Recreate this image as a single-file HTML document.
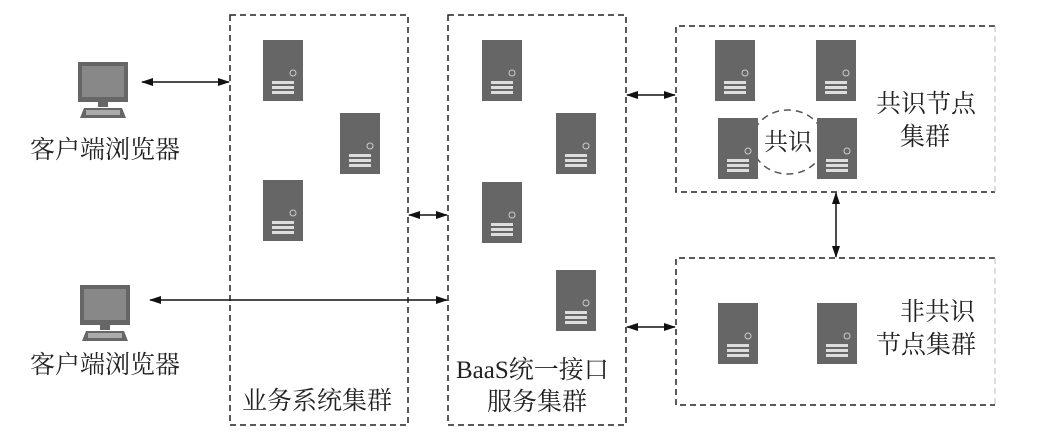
<!DOCTYPE html>
<html><head><meta charset="utf-8"><style>
html,body{margin:0;padding:0;background:#fff;}
svg text{font-family:"Liberation Serif","Noto Serif CJK SC",serif;fill:#222;}
</style></head><body>
<svg width="1055" height="441" viewBox="0 0 1055 441" xmlns="http://www.w3.org/2000/svg">
<defs>
<marker id="a" markerWidth="12" markerHeight="8" refX="11" refY="4" orient="auto-start-reverse" markerUnits="userSpaceOnUse">
<path d="M0,0 L12,4 L0,8 Z" fill="#111"/></marker>
<g id="srv">
<rect x="0" y="0" width="40" height="61" fill="#666"/>
<circle cx="30" cy="33" r="3" fill="none" stroke="#ccc" stroke-width="1"/>
<rect x="9" y="41" width="22" height="3" fill="#ddd"/>
<rect x="9" y="46" width="22" height="3" fill="#ddd"/>
<rect x="9" y="51" width="22" height="3" fill="#ddd"/>
</g>
<g id="pc">
<rect x="0" y="0" width="50" height="40" fill="#666"/>
<rect x="4" y="4" width="42" height="31" fill="#888"/>
<rect x="20" y="40" width="10" height="5" fill="#666"/>
<path d="M2,56 L6,46 L44,46 L48,56 Z" fill="#666"/>
<rect x="8" y="48" width="34" height="5" fill="#aaa"/>
</g>
</defs>
<g fill="none" stroke="#222" stroke-width="1.5" stroke-dasharray="6,4">
<rect x="230" y="15" width="178" height="410"/>
<rect x="448" y="15" width="178" height="410"/>
<path d="M995,26 L676,26 L676,192 L995,192"/>
<path d="M995,258 L676,258 L676,405 L995,405"/>
</g>
<g fill="none" stroke="#bbb" stroke-width="1" stroke-dasharray="6,4">
<line x1="995" y1="26" x2="995" y2="192"/>
<line x1="995" y1="258" x2="995" y2="405"/>
</g>
<ellipse cx="788" cy="142" rx="36" ry="32" fill="none" stroke="#555" stroke-width="1.5" stroke-dasharray="7,5"/>
<use href="#pc" x="78" y="62"/>
<use href="#pc" x="80" y="285"/>
<use href="#srv" x="263" y="40"/>
<use href="#srv" x="340" y="113"/>
<use href="#srv" x="263" y="180"/>
<use href="#srv" x="482" y="40"/>
<use href="#srv" x="556" y="113"/>
<use href="#srv" x="482" y="182"/>
<use href="#srv" x="556" y="270"/>
<use href="#srv" x="715" y="40"/>
<use href="#srv" x="816" y="40"/>
<use href="#srv" x="718" y="118"/>
<use href="#srv" x="817" y="118"/>
<use href="#srv" x="718" y="303"/>
<use href="#srv" x="817" y="303"/>
<g stroke="#111" stroke-width="1.5" marker-start="url(#a)" marker-end="url(#a)">
<line x1="142" y1="82" x2="229" y2="82"/>
<line x1="150" y1="300" x2="447" y2="300"/>
<line x1="409" y1="215" x2="447" y2="215"/>
<line x1="627" y1="95" x2="675" y2="95"/>
<line x1="627" y1="327" x2="675" y2="327"/>
<line x1="836" y1="193" x2="836" y2="257"/>
</g>
<g font-size="25">
<text x="30" y="158">客户端浏览器</text>
<text x="30" y="373">客户端浏览器</text>
<text x="242" y="409">业务系统集群</text>
<text x="456" y="378">BaaS统一接口</text>
<text x="487" y="410">服务集群</text>
<text x="764" y="150" font-size="24">共识</text>
<text x="876" y="112">共识节点</text>
<text x="900" y="145">集群</text>
<text x="900" y="320">非共识</text>
<text x="876" y="353">节点集群</text>
</g>
</svg>
</body></html>
